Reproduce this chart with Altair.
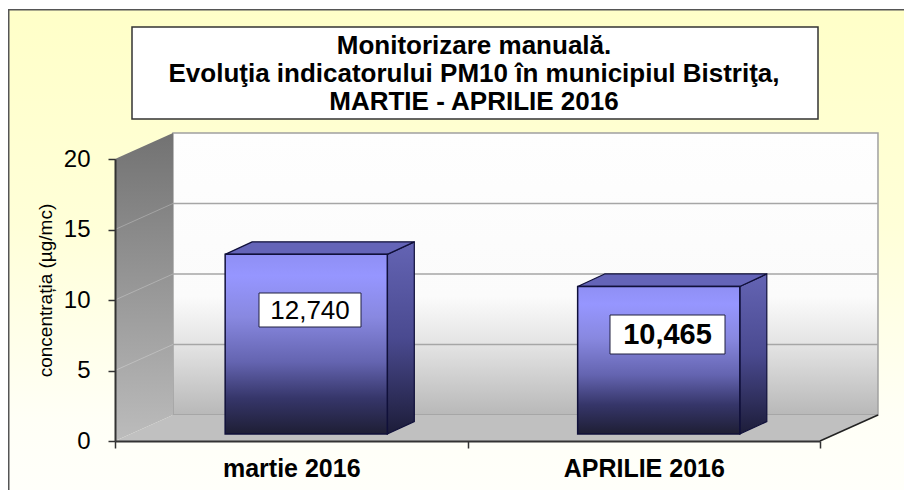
import altair as alt
import pandas as pd

categories = ["martie 2016", "APRILIE 2016"]
values = [12.74, 10.465]
value_labels = ["12,740", "10,465"]
y_ticks = [0, 5, 10, 15, 20]
title_lines = ["Monitorizare manuală.",
               "Evoluţia indicatorului PM10 în municipiul Bistriţa,",
               "MARTIE - APRILIE 2016"]

# depth of the pseudo-3D box, in data units
WALL_DX, WALL_DY = 0.1645, 1.844
BAR_SHIFT_X, BAR_SHIFT_Y = 0.0425, 0.496
BAR_DX, BAR_DY = 0.0766, 0.887
BAR_W = 0.46
XMAX = len(categories)

FONT = "Liberation Sans"
xs = alt.Scale(domain=[0, XMAX], nice=False, zero=False)
ys = alt.Scale(domain=[0, 20], nice=False, zero=False)


def grad(*stops):
    return alt.Gradient(gradient="linear", x1=0, x2=0, y1=0, y2=1,
                        stops=[alt.GradientStop(offset=o, color=c) for o, c in stops])


def X(f="x", **kw):
    return alt.X(f + ":Q", scale=xs, axis=None, **kw)


def Y(f="y", **kw):
    return alt.Y(f + ":Q", scale=ys, axis=None, stack=None, **kw)


one = pd.DataFrame({"a": [0]})


def px_rect(x, x2, y, y2, **mark):
    return alt.Chart(one).mark_rect(**mark).encode(
        x=alt.value(x), x2=alt.value(x2), y=alt.value(y), y2=alt.value(y2))


def px_text(txt, x, y, **mark):
    return alt.Chart(pd.DataFrame({"t": [txt]})).mark_text(font=FONT, color="#000000", **mark).encode(
        x=alt.value(x), y=alt.value(y), text="t:N")


BG_BOTTOM = 331
BG_RIGHT = 789
bg = px_rect(-107, BG_RIGHT, -150, BG_BOTTOM, fill=grad((0, "#ffffc8"), (0.45, "#ffffd8"), (0.85, "#fffff6"), (1, "#fffffa")))
frame_l = px_rect(-107, -105.5, -150, BG_BOTTOM, fill="#555555")
frame_t = px_rect(-107, BG_RIGHT, -150, -148.5, fill="#555555")

title_box = px_rect(17, 703, -132, -40, fill="#ffffff", stroke="#333333", strokeWidth=1.5)
title_txt = [
    px_text(t, 359, y, fontSize=26, fontWeight="bold", align="center", baseline="middle")
    for t, y in zip(title_lines, [-113, -85, -57])
]

# back wall
wall = alt.Chart(pd.DataFrame({"x": [WALL_DX], "x2": [XMAX + WALL_DX], "y": [WALL_DY], "y2": [20 + WALL_DY]})).mark_rect(
    fill=grad((0, "#fefefe"), (0.58, "#fbfbfb"), (0.76, "#e2e2e2"), (1, "#b8b8b8")),
    stroke="#a0a0a0", strokeWidth=1.5,
).encode(x=X(), x2="x2:Q", y=Y(), y2="y2:Q")

grid_df = pd.DataFrame({"x": [WALL_DX] * 4, "x2": [XMAX + WALL_DX] * 4,
                        "y": [t + WALL_DY for t in y_ticks[:4]]})
grid = alt.Chart(grid_df).mark_rule(color="#a6a6a6", strokeWidth=1.5).encode(
    x=X(), x2="x2:Q", y=Y())

# left side wall
side = alt.Chart(pd.DataFrame({"x": [0, WALL_DX], "y": [0, WALL_DY], "y2": [20, 20 + WALL_DY]})).mark_area(
    orient="vertical", fill=grad((0, "#727272"), (1, "#bcbcbc"))
).encode(x=X(), y=Y(), y2="y2:Q")

side_grid_df = pd.DataFrame({"x": [0] * 3, "x2": [WALL_DX] * 3,
                             "y": y_ticks[1:4], "y2": [t + WALL_DY for t in y_ticks[1:4]]})
side_grid = alt.Chart(side_grid_df).mark_rule(color="#ffffff", opacity=0.25, strokeWidth=1).encode(
    x=X(), x2="x2:Q", y=Y(), y2="y2:Q")

# floor
floor = alt.Chart(pd.DataFrame({"y": [0, WALL_DY], "x": [0, WALL_DX], "x2": [XMAX, XMAX + WALL_DX]})).mark_area(
    orient="horizontal", fill="#c0c0c0"
).encode(y=Y(), x=X(), x2="x2:Q")

floor_edge = alt.Chart(pd.DataFrame({"x": [XMAX], "x2": [XMAX + WALL_DX], "y": [0], "y2": [WALL_DY]})).mark_rule(
    color="#222222", strokeWidth=1.5).encode(x=X(), x2="x2:Q", y=Y(), y2="y2:Q")

# bars
OUT = "#10103a"
front_rows, side_rows, top_rows = [], [], []
for i, v in enumerate(values):
    x0 = i + 0.5 - BAR_W / 2 + BAR_SHIFT_X
    x1 = x0 + BAR_W
    base, top = BAR_SHIFT_Y, v + BAR_SHIFT_Y
    front_rows.append({"x": x0, "x2": x1, "y": base, "y2": top})
    side_rows += [{"k": i, "x": x1, "y": base, "y2": top},
                  {"k": i, "x": x1 + BAR_DX, "y": base + BAR_DY, "y2": top + BAR_DY}]
    top_rows += [{"k": i, "y": top, "x": x0, "x2": x1},
                 {"k": i, "y": top + BAR_DY, "x": x0 + BAR_DX, "x2": x1 + BAR_DX}]

bar_side = alt.Chart(pd.DataFrame(side_rows)).mark_area(
    orient="vertical", fill=grad((0, "#6464b4"), (0.5, "#4a4a90"), (1, "#1c1c38")),
    stroke=OUT, strokeWidth=1.2
).encode(x=X(), y=Y(), y2="y2:Q", detail="k:N")

bar_top = alt.Chart(pd.DataFrame(top_rows)).mark_area(
    orient="horizontal", fill="#6464b8", stroke=OUT, strokeWidth=1.2
).encode(y=Y(), x=X(), x2="x2:Q", detail="k:N")

bar_front = alt.Chart(pd.DataFrame(front_rows)).mark_bar(
    fill=grad((0, "#8f8ff4"), (0.12, "#9696ff"), (0.35, "#8888e0"), (0.6, "#6464b0"), (0.8, "#36366a"), (1, "#1e1e34")),
    stroke=OUT, strokeWidth=1.5
).encode(x=X(), x2="x2:Q", y=Y(), y2="y2:Q")

box1 = px_rect(144, 246, 134, 168, fill="#ffffff", stroke="#202040", strokeWidth=1)
box2 = px_rect(495, 610, 156, 195, fill="#ffffff", stroke="#202040", strokeWidth=1)
lab1 = px_text(value_labels[0], 195, 152, fontSize=26, align="center", baseline="middle")
lab2 = px_text(value_labels[1], 552.5, 176, fontSize=29, fontWeight="bold", align="center", baseline="middle")

# axes: real Vega-Lite axes driven by the scales
label_expr = " : ".join(f"datum.value == {i + 0.5} ? '{c}'" for i, c in enumerate(categories)) + " : ''"
axes = alt.Chart(pd.DataFrame({"x": [0], "y": [0]})).mark_point(opacity=0).encode(
    x=alt.X("x:Q", scale=xs, title=None, axis=alt.Axis(
        values=[0, 0.5, 1, 1.5, 2], labelExpr=label_expr, grid=False, zindex=1,
        domainColor="#333333", domainWidth=2, tickColor="#333333", tickWidth=1.5, tickSize=7,
        tickOpacity={"condition": {"test": "datum.value % 1 == 0", "value": 1}, "value": 0},
        labelFont=FONT, labelFontSize=25, labelFontWeight="bold", labelColor="#000000",
        labelPadding=8, labelFlush=False, labelOverlap=False, labelBound=False)),
    y=alt.Y("y:Q", scale=ys, axis=alt.Axis(
        values=y_ticks, grid=False, zindex=1, title="concentrația (µg/mc)",
        titleFont=FONT, titleFontSize=19, titleFontWeight="normal", titleColor="#000000",
        titleX=-70, titleY=131, titleAngle=-90, titleAlign="center", titleBaseline="middle",
        domainColor="#333333", domainWidth=2, tickColor="#333333", tickWidth=1.5, tickSize=7,
        labelFont=FONT, labelFontSize=24, labelColor="#000000", labelPadding=18,
        labelFlush=False, labelOverlap=False, labelBound=False)),
)

chart = alt.layer(
    bg, frame_l, frame_t, title_box, *title_txt,
    wall, grid, side, side_grid, floor, floor_edge,
    bar_side, bar_top, bar_front, box1, box2, lab1, lab2, axes,
).resolve_scale(x="shared", y="shared").resolve_axis(x="independent", y="independent").properties(
    width=705, height=282, padding={"left": 0, "top": 1, "right": 0, "bottom": 0}
).configure_view(stroke=None).configure(background="#ffffff")

chart.save("out.html", embed_options={"renderer": "svg", "actions": False})
